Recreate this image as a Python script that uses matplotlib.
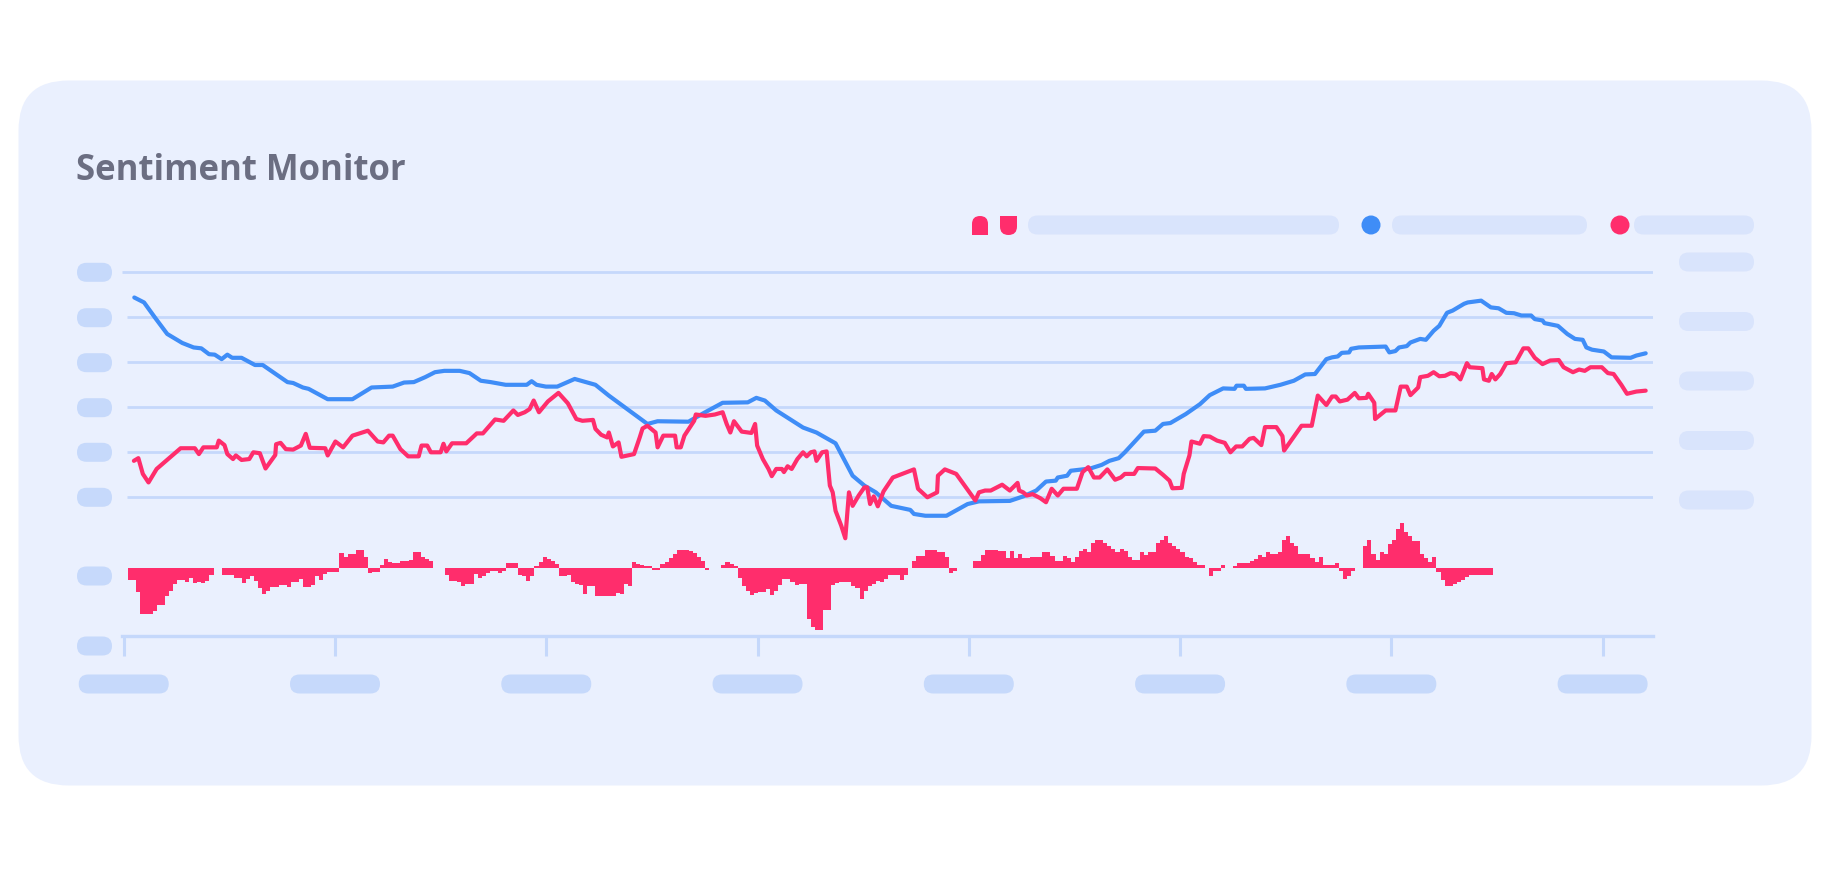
import numpy as np
import matplotlib
matplotlib.use('Agg')
import matplotlib.pyplot as plt
from matplotlib.patches import FancyBboxPatch, Circle, Rectangle

# sentiment index (weekly) - blue = slow trend, red = fast reading
blue_weeks = [2.6, 5.0, 7.8, 10.7, 14.4, 17.2, 19.1, 21.0, 22.4, 24.1, 25.5, 26.7, 29.0, 32.3, 34.2,
              40.3, 41.7, 44.1, 45.5, 50.2, 56.3, 61.0, 66.2, 69.0, 71.4, 74.2, 76.6, 78.9, 82.7,
              85.1, 87.9, 90.3, 94.0, 99.2, 100.4, 101.6, 103.9, 106.7, 111.0, 116.1, 119.4, 128.9,
              131.4, 139.0, 142.7, 147.4, 153.6, 155.7, 157.8, 160.6, 167.2, 170.5, 175.2, 179.4,
              182.3, 185.1, 188.9, 193.6, 194.5, 197.3, 202.5, 207.7, 210.5, 218.1, 221.4, 224.6,
              227.0, 229.4, 229.9, 232.2, 233.1, 237.9, 240.7, 242.6, 244.9, 246.4, 251.1, 253.9,
              255.8, 257.6, 261.4, 264.9, 267.3, 270.6, 273.4, 273.9, 275.7, 276.2, 280.9, 284.7,
              288.0, 290.8, 293.2, 296.0, 297.4, 298.8, 299.8, 301.6, 302.1, 304.0, 310.6, 311.5,
              313.0, 313.9, 315.8, 316.7, 319.1, 320.5, 322.4, 323.8, 325.7, 327.1, 329.9, 330.8,
              334.1, 336.5, 338.4, 340.3, 342.2, 344.0, 346.4, 347.3, 349.2, 349.7, 353.0, 355.3,
              357.2, 359.1, 360.0, 361.4, 364.3, 366.2, 370.9, 372.3, 374.6]
blue_values = [4.44, 4.33, 3.98, 3.63, 3.43, 3.33, 3.31, 3.18, 3.17, 3.07, 3.17, 3.10, 3.10, 2.94, 2.94,
               2.56, 2.54, 2.44, 2.41, 2.18, 2.18, 2.44, 2.46, 2.55, 2.56, 2.67, 2.78, 2.81, 2.81,
               2.76, 2.59, 2.56, 2.50, 2.50, 2.58, 2.50, 2.46, 2.46, 2.63, 2.50, 2.26, 1.63,
               1.69, 1.68, 1.87, 2.10, 2.11, 2.21, 2.15, 1.93, 1.55, 1.44, 1.20, 0.48,
               0.26, 0.11, -0.19, -0.28, -0.37, -0.41, -0.41, -0.15, -0.09, -0.08, 0.02, 0.15,
               0.35, 0.37, 0.44, 0.48, 0.59, 0.64, 0.72, 0.81, 0.87, 1.00, 1.46, 1.48,
               1.63, 1.65, 1.85, 2.07, 2.27, 2.42, 2.41, 2.48, 2.48, 2.41, 2.42, 2.50,
               2.59, 2.73, 2.74, 3.07, 3.11, 3.13, 3.21, 3.22, 3.30, 3.33, 3.35, 3.22,
               3.25, 3.33, 3.36, 3.44, 3.52, 3.50, 3.70, 3.81, 4.10, 4.15, 4.30, 4.33,
               4.37, 4.22, 4.20, 4.10, 4.09, 4.04, 4.04, 3.96, 3.93, 3.87, 3.81, 3.63,
               3.52, 3.50, 3.33, 3.28, 3.24, 3.11, 3.10, 3.15, 3.20]

red_weeks = [2.5, 3.6, 4.7, 6.1, 8.1, 14.0, 17.5, 18.5, 19.6, 22.9, 23.4, 24.8, 25.5, 26.9, 27.6,
             29.0, 30.9, 31.9, 33.5, 34.9, 37.3, 37.5, 38.6, 39.9, 41.7, 43.6, 44.8, 45.8, 49.6,
             50.2, 52.1, 54.0, 56.3, 60.1, 62.5, 63.9, 65.3, 66.2, 68.1, 70.0, 72.6, 73.3, 74.7,
             75.6, 78.0, 78.7, 79.4, 80.8, 84.3, 86.9, 88.4, 91.4, 93.5, 95.9, 97.0, 98.7, 99.9,
             100.9, 102.2, 104.4, 107.0, 109.3, 111.4, 112.9, 115.5, 116.1, 117.5, 119.0, 119.4,
             120.4, 121.8, 122.5, 125.6, 127.0, 127.7, 128.9, 130.9, 131.4, 132.8, 135.7, 136.1,
             137.1, 138.0, 140.4, 140.8, 143.2, 145.5, 147.4, 148.4, 149.3, 150.2, 152.1, 154.5,
             155.4, 155.9, 157.3, 158.7, 159.5, 160.6, 162.0, 162.5, 163.4, 164.4, 165.8, 167.2,
             168.1, 169.1, 170.0, 170.5, 171.9, 173.0, 173.8, 174.5, 175.2, 176.6, 177.6, 178.5,
             179.4, 180.9, 182.3, 183.0, 183.7, 184.6, 185.6, 187.0, 189.3, 194.5, 195.5, 197.8,
             200.2, 200.4, 202.1, 204.9, 209.6, 210.5, 212.0, 213.4, 216.2, 218.1, 220.0, 220.4,
             221.4, 222.3, 223.7, 225.6, 227.0, 228.4, 229.9, 231.3, 234.6, 236.0, 237.4, 238.8,
             240.2, 242.1, 244.0, 245.4, 246.4, 248.7, 249.6, 253.9, 255.8, 257.4, 258.1, 260.4,
             260.9, 262.3, 262.8, 264.9, 265.8, 267.3, 269.1, 271.0, 272.4, 273.8, 275.3, 277.1,
             278.1, 280.0, 280.9, 283.7, 285.2, 285.6, 289.9, 292.4, 293.9, 296.0, 297.4, 298.3,
             299.3, 301.2, 303.0, 304.0, 305.9, 306.3, 307.8, 308.0, 310.6, 313.0, 314.3, 315.8,
             316.7, 318.6, 319.1, 321.0, 322.4, 323.8, 325.2, 326.6, 327.8, 329.0, 330.6, 331.3,
             334.4, 334.8, 336.0, 336.7, 337.6, 338.8, 340.3, 342.6, 344.5, 345.7, 347.3, 349.2,
             351.1, 353.2, 354.4, 356.7, 358.2, 359.6, 361.0, 363.8, 365.3, 366.7, 368.6, 370.0,
             372.3, 374.6]
red_values = [0.81, 0.87, 0.52, 0.33, 0.63, 1.09, 1.09, 0.96, 1.11, 1.11, 1.26, 1.16, 0.96, 0.85, 0.93,
              0.83, 0.85, 1.00, 0.98, 0.64, 0.94, 1.18, 1.21, 1.07, 1.06, 1.15, 1.41, 1.10, 1.09,
              0.93, 1.24, 1.11, 1.37, 1.48, 1.24, 1.22, 1.37, 1.37, 1.07, 0.91, 0.91, 1.15, 1.15,
              1.00, 1.00, 1.19, 1.02, 1.20, 1.20, 1.42, 1.42, 1.73, 1.70, 1.93, 1.83, 1.89, 1.96,
              2.15, 1.89, 2.13, 2.32, 2.09, 1.74, 1.70, 1.72, 1.52, 1.39, 1.33, 1.44,
              1.13, 1.22, 0.90, 0.96, 1.33, 1.53, 1.59, 1.44, 1.11, 1.37, 1.37, 1.11,
              1.11, 1.37, 1.70, 1.84, 1.81, 1.84, 1.89, 1.63, 1.44, 1.69, 1.46, 1.43,
              1.63, 1.15, 0.85, 0.63, 0.47, 0.63, 0.63, 0.56, 0.69, 0.63, 0.85, 1.00,
              0.91, 1.00, 1.02, 0.81, 1.00, 1.02, 0.26, 0.11, -0.30, -0.63, -0.91, 0.11,
              -0.19, 0.04, 0.22, 0.22, -0.15, 0.02, -0.20, 0.13, 0.44, 0.62, 0.19, 0.00,
              0.11, 0.48, 0.62, 0.52, -0.07, 0.11, 0.15, 0.15, 0.28, 0.15, 0.32, 0.15,
              0.11, 0.04, 0.07, -0.02, -0.11, 0.19, 0.04, 0.19, 0.19, 0.56, 0.67, 0.44,
              0.44, 0.62, 0.39, 0.44, 0.52, 0.52, 0.65, 0.64, 0.50, 0.37, 0.20, 0.21,
              0.52, 0.93, 1.24, 1.19, 1.36, 1.35, 1.26, 1.21, 1.00, 1.13, 1.13, 1.30,
              1.32, 1.16, 1.56, 1.56, 1.36, 1.04, 1.59, 1.59, 2.26, 2.05, 2.24, 2.24,
              2.13, 2.17, 2.32, 2.20, 2.21, 2.30, 2.10, 1.74, 1.93, 1.93, 2.46, 2.46,
              2.27, 2.44, 2.67, 2.70, 2.78, 2.69, 2.70, 2.76, 2.74, 2.62, 2.98, 2.89,
              2.87, 2.62, 2.59, 2.74, 2.62, 2.74, 2.98, 3.00, 3.31, 3.31, 3.10, 2.96,
              3.04, 3.05, 2.89, 2.78, 2.84, 2.81, 2.89, 2.89, 2.76, 2.74, 2.50, 2.30,
              2.35, 2.37]

# weekly spread histogram, first bar at week 1.1
hist_start = 1.1
hist_values = [
    -1.2, -1.2, -2.4, -4.6, -4.6, -4.6, -4.3, -3.7, -3.7, -2.8, -2.3, -1.6,
    -1.2, -1.2, -1.4, -1.0, -1.5, -1.4, -1.5, -1.3, -0.7, 0, 0, -0.7,
    -0.7, -0.7, -1.0, -1.0, -1.5, -1.1, -0.8, -1.3, -2.0, -2.6, -2.3, -1.9,
    -1.9, -1.7, -1.7, -1.9, -1.4, -1.4, -1.1, -1.9, -1.9, -1.7, -0.8, -1.2,
    -0.6, -0.4, -0.4, -0.4, 1.5, 1.1, 1.4, 1.4, 1.8, 1.8, 1.1, -0.5,
    -0.4, -0.4, 0.3, 0.9, 0.6, 0.5, 0.5, 0.7, 0.7, 0.8, 1.6, 1.6,
    1.1, 0.9, 0.7, 0, 0, 0, -0.7, -1.3, -1.3, -1.4, -1.8, -1.6,
    -1.6, -0.6, -1.0, -0.8, -0.5, -0.3, -0.3, -0.5, -0.3, 0.5, 0.5, 0.5,
    -0.7, -0.8, -1.3, -0.8, 0.2, 0.6, 1.1, 0.9, 0.7, 0.4, -0.8, -0.8,
    -0.7, -1.4, -1.6, -1.7, -2.6, -1.8, -1.8, -2.8, -2.8, -2.8, -2.8, -2.8,
    -2.5, -2.6, -1.6, -1.8, 0.6, 0.4, 0.3, 0.2, 0.2, -0.2, -0.2, 0.4,
    0.6, 1.0, 1.4, 1.8, 1.8, 1.8, 1.7, 1.5, 1.1, 0.7, -0.2, 0,
    0, 0, 0.3, 0.6, 0.4, 0.2, -1.0, -1.8, -2.3, -2.7, -2.5, -2.4,
    -2.4, -2.1, -2.7, -2.3, -1.7, -1.1, -1.1, -1.4, -1.7, -1.6, -1.6, -5.1,
    -5.9, -6.2, -6.2, -4.2, -4.2, -1.7, -1.5, -1.4, -1.4, -1.4, -1.8, -2.0,
    -3.1, -2.3, -1.8, -1.6, -1.3, -1.4, -1.1, -0.7, -0.7, -0.7, -1.2, -0.7,
    0, 0.7, 1.2, 1.2, 1.8, 1.8, 1.8, 1.6, 1.6, 1.1, -0.5, -0.3,
    0, 0, 0, 0, 0.7, 0.7, 1.3, 1.8, 1.8, 1.8, 1.7, 1.7,
    1.0, 1.7, 1.0, 1.4, 1.0, 1.0, 1.1, 1.1, 1.1, 1.6, 1.6, 1.2,
    0.7, 0.7, 1.2, 1.0, 0.6, 1.1, 1.7, 1.9, 1.6, 2.5, 2.8, 2.8,
    2.5, 2.2, 1.9, 1.6, 1.9, 1.7, 1.1, 0.8, 0.8, 1.6, 1.3, 1.6,
    1.6, 2.5, 2.8, 3.2, 2.5, 2.2, 1.9, 1.6, 1.1, 1.0, 0.6, 0.3,
    0.3, 0, -0.8, -0.3, -0.3, 0.3, 0, 0, 0.2, 0.5, 0.5, 0.5,
    0.7, 0.9, 1.3, 1.1, 1.6, 1.4, 1.4, 1.6, 2.8, 3.2, 2.5, 2.2,
    1.4, 1.4, 1.4, 1.0, 0.6, 1.1, 0.3, 0.3, 0.3, 0.5, -0.3, -1.1,
    -0.8, -0.3, 0, 0, 2.2, 2.8, 1.4, 0.8, 1.6, 1.4, 2.4, 2.8,
    3.9, 4.5, 3.6, 3.2, 2.7, 2.7, 1.4, 1.0, 0.6, 1.1, -0.4, -1.2,
    -1.8, -1.8, -1.6, -1.4, -1.2, -0.9, -0.7, -0.7, -0.7, -0.7, -0.7, -0.7,
]

grid_levels = [0, 1, 2, 3, 4, 5]
year_ticks = [0, 52, 104, 156, 208, 260, 312, 364]

BLUE = '#3f8df7'
RED = '#ff2d6c'
CARD = '#eaf0fe'
GRID = '#c5d8fb'
PILL = '#c6d9fb'
PILL_LIGHT = '#d9e4fc'

W, H = 1830, 870
fig = plt.figure(figsize=(W / 100, H / 100), dpi=100, facecolor='white')

# background layer in pixel coordinates (card + placeholder labels)
bg = fig.add_axes([0, 0, 1, 1], zorder=0)
bg.set_xlim(0, W)
bg.set_ylim(H, 0)
bg.axis('off')


def pill(x0, yc, w, h, color):
    bg.add_patch(FancyBboxPatch((x0, yc - h / 2), w, h,
                                boxstyle=f'round,pad=0,rounding_size={h / 2}',
                                fc=color, ec='none'))


bg.add_patch(FancyBboxPatch((18.5, 81.5), 1793, 705,
                            boxstyle='round,pad=0,rounding_size=50',
                            fc=CARD, ec='none'))

fig.text(76 / W, 1 - 180 / H, 'Sentiment Monitor', fontsize=25, fontweight='bold',
         family='Open Sans', color='#6b6e82', va='baseline', ha='left')

# legend
bg.add_patch(FancyBboxPatch((972, 217), 16, 19, boxstyle='round,pad=0,rounding_size=8',
                            fc=RED, ec='none'))
bg.add_patch(Rectangle((972, 226), 16, 10, fc=RED, ec='none'))
bg.add_patch(FancyBboxPatch((1000, 217), 17, 19, boxstyle='round,pad=0,rounding_size=8.5',
                            fc=RED, ec='none'))
bg.add_patch(Rectangle((1000, 217), 17, 10, fc=RED, ec='none'))
pill(1028, 226, 311, 19, PILL_LIGHT)
bg.add_patch(Circle((1371, 226), 9.5, fc=BLUE, ec='none'))
pill(1392, 226, 195, 19, PILL_LIGHT)
bg.add_patch(Circle((1620, 226), 9.5, fc=RED, ec='none'))
pill(1634, 226, 120, 19, PILL_LIGHT)

# left / right axis label placeholders
for yc in [273.3, 318.7, 363.7, 408.7, 453.3, 498.3, 577, 647]:
    pill(77, yc, 35, 19, PILL)
for yc in [263, 322.5, 382, 441.5, 501]:
    pill(1679, yc, 75, 19, PILL_LIGHT)

# main chart axes
pos = [121.7 / W, 1 - 636.7 / H, (1653 - 121.7) / W, (636.7 - 260) / H]
ax = fig.add_axes(pos, zorder=2)
ax.patch.set_alpha(0)
ax.set_xlim(-0.5, 376.4)
ax.set_ylim((498.3 - 636.7) / 45, (498.3 - 260) / 45)

ax.hlines(grid_levels, [0.8] * 5 + [-0.5], 376.4, color=GRID, lw=2.0, zorder=1)
ax.plot(blue_weeks, blue_values, color=BLUE, lw=3.0, zorder=3, solid_capstyle='round')
ax.plot(red_weeks, red_values, color=RED, lw=3.0, zorder=4, solid_capstyle='round')

for s in ['left', 'right', 'top']:
    ax.spines[s].set_visible(False)
ax.spines['bottom'].set_color(GRID)
ax.spines['bottom'].set_linewidth(2.4)
ax.set_xticks(year_ticks)
ax.set_yticks([])
ax.tick_params(axis='x', length=14.5, width=2.2, color=GRID, direction='out', labelbottom=False)

# histogram axes sharing the same frame
ax2 = fig.add_axes(pos, zorder=1, sharex=ax)
ax2.patch.set_alpha(0)
ax2.axis('off')
ax2.set_ylim((569.3 - 636.7) / 10, (569.3 - 260) / 10)
hist_weeks = hist_start + np.arange(len(hist_values))
ax2.bar(hist_weeks, hist_values, width=1.0, align='edge', color=RED, linewidth=0)

# x tick label placeholders
for wk in year_ticks:
    xc = 121.7 + (wk + 0.5) * (1653 - 121.7) / 376.9
    pill(xc - 45, 685, 90, 19, PILL)

fig.savefig('out.png', dpi=100, facecolor='white')
